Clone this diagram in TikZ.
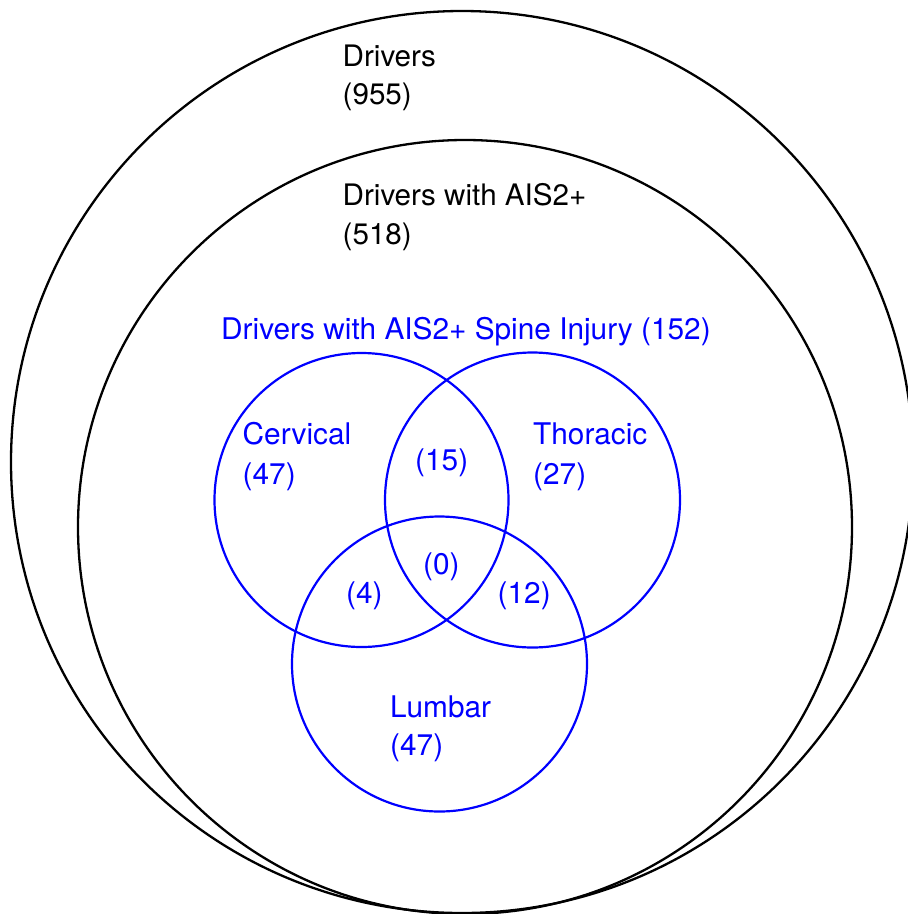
\documentclass[tikz,border=0pt]{standalone}
\usepackage{fontspec}
\setmainfont{TeX Gyre Heros}
\begin{document}
\begin{tikzpicture}[x=1pt,y=-1pt,
  setbox/.style={circle, draw=black, line width=2.3pt, inner sep=0pt, minimum size=#1},
  spinebox/.style={circle, draw=blue, line width=2.2pt, inner sep=0pt, minimum size=#1},
  blacktxt/.style={anchor=base west, inner sep=0pt, text=black, font=\fontsize{29.6}{34}\selectfont},
  bluetxt/.style={anchor=base west, inner sep=0pt, text=blue, font=\fontsize{29.8}{34}\selectfont}]
\useasboundingbox (0,0) rectangle (908,914);
\node[setbox=902pt] (outer) at (462,462) {};
\node[setbox=774pt] (inner) at (465,527) {};
\node[spinebox=294pt] (cerv) at (361.5,500) {};
\node[spinebox=295pt] (thor) at (532.5,500) {};
\node[spinebox=295pt] (lumb) at (439.5,664) {};
\node[blacktxt] (t1) at (342.5,66) {Drivers};
\node[blacktxt] (t2) at (342.5,104) {(955)};
\node[blacktxt] (t3) at (342.5,205) {Drivers with AIS2+};
\node[blacktxt] (t4) at (342.5,244) {(518)};
\node[bluetxt] (t5) at (221,339) {Drivers with AIS2+ Spine Injury (152)};
\node[bluetxt] (t6) at (242.5,444) {Cervical};
\node[bluetxt] (t7) at (242.5,484) {(47)};
\node[bluetxt] (t8) at (533,444) {Thoracic};
\node[bluetxt] (t9) at (533,484) {(27)};
\node[bluetxt] (t10) at (415,470) {(15)};
\node[bluetxt] (t11) at (423,574) {(0)};
\node[bluetxt] (t12) at (346,603) {(4)};
\node[bluetxt] (t13) at (497.5,603) {(12)};
\node[bluetxt] (t14) at (390,717) {Lumbar};
\node[bluetxt] (t15) at (390,755) {(47)};
\end{tikzpicture}
\end{document}
